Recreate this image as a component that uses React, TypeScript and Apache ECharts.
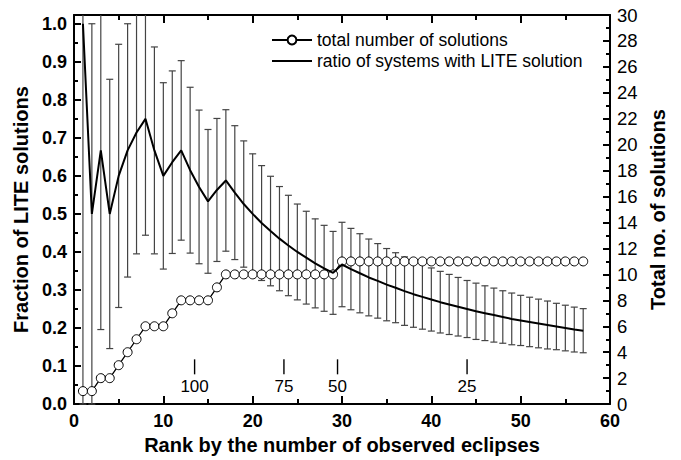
import React, { useEffect, useRef } from "react";
import * as echarts from "echarts";

// Rank by number of observed eclipses
const ranks = [
  1, 2, 3, 4, 5, 6, 7, 8, 9, 10, 11, 12, 13, 14, 15, 16, 17, 18, 19, 20,
  21, 22, 23, 24, 25, 26, 27, 28, 29, 30, 31, 32, 33, 34, 35, 36, 37, 38, 39, 40,
  41, 42, 43, 44, 45, 46, 47, 48, 49, 50, 51, 52, 53, 54, 55, 56, 57,
];

// Cumulative number of LITE solutions (right axis)
const totalSolutions = [
  1, 1, 2, 2, 3, 4, 5, 6, 6, 6, 7, 8, 8, 8, 8, 9, 10, 10, 10, 10,
  10, 10, 10, 10, 10, 10, 10, 10, 10, 11, 11, 11, 11, 11, 11, 11, 11, 11, 11, 11,
  11, 11, 11, 11, 11, 11, 11, 11, 11, 11, 11, 11, 11, 11, 11, 11, 11,
];

// Fraction of systems with a LITE solution (left axis)
const ratio = [
  1.0, 0.5, 0.667, 0.5, 0.6, 0.667, 0.714, 0.75, 0.667, 0.6,
  0.636, 0.667, 0.615, 0.571, 0.533, 0.563, 0.588, 0.556, 0.526, 0.5,
  0.476, 0.455, 0.435, 0.417, 0.4, 0.385, 0.37, 0.357, 0.345, 0.367,
  0.355, 0.344, 0.333, 0.324, 0.314, 0.306, 0.297, 0.289, 0.282, 0.275,
  0.268, 0.262, 0.256, 0.25, 0.244, 0.239, 0.234, 0.229, 0.224, 0.22,
  0.216, 0.212, 0.208, 0.204, 0.2, 0.196, 0.193,
];

// Symmetric uncertainty of the fraction
const ratioErr = [
  1.0, 0.5, 0.471, 0.354, 0.346, 0.333, 0.319, 0.306, 0.272, 0.245,
  0.24, 0.236, 0.218, 0.202, 0.189, 0.188, 0.186, 0.176, 0.166, 0.158,
  0.151, 0.144, 0.137, 0.132, 0.126, 0.122, 0.117, 0.113, 0.109, 0.111,
  0.107, 0.104, 0.101, 0.098, 0.095, 0.092, 0.09, 0.087, 0.085, 0.083,
  0.081, 0.079, 0.077, 0.075, 0.074, 0.072, 0.071, 0.069, 0.068, 0.066,
  0.065, 0.064, 0.063, 0.061, 0.06, 0.059, 0.058,
];

// Ranks at which the number of observed eclipses drops to the given count
const eclipseMarkRanks = [13.5, 23.5, 29.5, 44];
const eclipseMarkLabels = ["100", "75", "50", "25"];
const eclipseMarkLevel = 0.098;

const FONT = "'Liberation Sans', Arial, Helvetica, sans-serif";

export default function App() {
  const ref = useRef<HTMLDivElement>(null);

  useEffect(() => {
    if (!ref.current) return;
    const chart = echarts.init(ref.current, undefined, { renderer: "svg" });

    const errData = ranks.map((r, i) => [r, ratio[i] - ratioErr[i], ratio[i] + ratioErr[i]]);
    const ratioData = ranks.map((r, i) => [r, ratio[i]]);
    const totalData = ranks.map((r, i) => [r, totalSolutions[i]]);
    const markData = eclipseMarkRanks.map((r, i) => ({
      name: eclipseMarkLabels[i],
      value: [r, eclipseMarkLevel],
    }));

    const axisLine = { show: true, onZero: false, lineStyle: { color: "#000", width: 2 } };

    chart.setOption({
      animation: false,
      backgroundColor: "#fff",
      textStyle: { fontFamily: FONT },
      grid: { left: 74, right: 71, top: 15, bottom: 48, containLabel: false },
      legend: {
        orient: "vertical",
        left: 266,
        top: 26,
        itemWidth: 40,
        itemHeight: 11,
        itemGap: 3,
        data: [
          { name: "total number of solutions" },
          {
            name: "ratio of systems with LITE solution",
            itemStyle: { color: "rgba(0,0,0,0)", borderWidth: 0, opacity: 0 },
          },
        ],
        textStyle: { fontFamily: FONT, fontSize: 17.5, color: "#000" },
      },
      xAxis: [
        {
          type: "value",
          min: 0,
          max: 60,
          interval: 10,
          position: "bottom",
          axisLine,
          axisTick: { show: true, inside: true, length: 8, lineStyle: { color: "#000", width: 2 } },
          minorTick: { show: true, splitNumber: 2, length: 5, lineStyle: { color: "#000", width: 2 } },
          splitLine: { show: false },
          axisLabel: { color: "#000", fontFamily: FONT, fontSize: 18, fontWeight: "bold", margin: 8 },
          name: "Rank by the number of observed eclipses",
          nameLocation: "middle",
          nameGap: 21,
          nameTextStyle: { color: "#000", fontFamily: FONT, fontSize: 20, fontWeight: "bold" },
        },
        {
          type: "value",
          min: 0,
          max: 60,
          interval: 10,
          position: "top",
          axisLine,
          axisTick: { show: true, inside: true, length: 8, lineStyle: { color: "#000", width: 2 } },
          minorTick: { show: true, splitNumber: 2, length: 5, lineStyle: { color: "#000", width: 2 } },
          splitLine: { show: false },
          axisLabel: { show: false },
        },
      ],
      yAxis: [
        {
          type: "value",
          min: 0,
          max: 1.023,
          interval: 0.1,
          position: "left",
          axisLine,
          axisTick: { show: true, inside: true, length: 7, lineStyle: { color: "#000", width: 2 } },
          minorTick: { show: true, splitNumber: 2, length: 4, lineStyle: { color: "#000", width: 2 } },
          splitLine: { show: false },
          axisLabel: {
            color: "#000",
            fontFamily: FONT,
            fontSize: 18,
            fontWeight: "bold",
            margin: 7,
            showMaxLabel: false,
            formatter: (v: number) => v.toFixed(1),
          },
          name: "Fraction of LITE solutions",
          nameLocation: "middle",
          nameRotate: 90,
          nameGap: 35,
          nameTextStyle: { color: "#000", fontFamily: FONT, fontSize: 20, fontWeight: "bold" },
        },
        {
          type: "value",
          min: 0,
          max: 30,
          interval: 2,
          position: "right",
          axisLine,
          axisTick: { show: true, inside: true, length: 7, lineStyle: { color: "#000", width: 2 } },
          minorTick: { show: true, splitNumber: 2, length: 4, lineStyle: { color: "#000", width: 2 } },
          splitLine: { show: false },
          axisLabel: { color: "#000", fontFamily: FONT, fontSize: 18.5, margin: 7 },
          name: "Total no. of solutions",
          nameLocation: "middle",
          nameRotate: 90,
          nameGap: 34,
          nameTextStyle: { color: "#000", fontFamily: FONT, fontSize: 20, fontWeight: "bold" },
        },
      ],
      series: [
        {
          type: "custom",
          name: "error",
          xAxisIndex: 0,
          yAxisIndex: 0,
          z: 1,
          data: errData,
          renderItem: (params: any, api: any) => {
            const cs = params.coordSys;
            const x = api.value(0);
            const pLo = api.coord([x, api.value(1)]);
            const pHi = api.coord([x, api.value(2)]);
            const top = cs.y;
            const bottom = cs.y + cs.height;
            const px = pLo[0];
            const yHi = Math.max(pHi[1], top);
            const yLo = Math.min(pLo[1], bottom);
            const style = { stroke: "#444", lineWidth: 1.2 };
            const children: any[] = [
              { type: "line", shape: { x1: px, y1: yLo, x2: px, y2: yHi }, style },
            ];
            const cap = 3.5;
            if (pHi[1] >= top) {
              children.push({ type: "line", shape: { x1: px - cap, y1: pHi[1], x2: px + cap, y2: pHi[1] }, style });
            }
            if (pLo[1] <= bottom) {
              children.push({ type: "line", shape: { x1: px - cap, y1: pLo[1], x2: px + cap, y2: pLo[1] }, style });
            }
            return { type: "group", children };
          },
        },
        {
          type: "line",
          name: "total number of solutions",
          xAxisIndex: 0,
          yAxisIndex: 1,
          z: 3,
          data: totalData,
          symbol: "circle",
          symbolSize: 9,
          showSymbol: true,
          lineStyle: { color: "#000", width: 1.3 },
          itemStyle: { color: "#fff", borderColor: "#000", borderWidth: 1 },
        },
        {
          type: "line",
          name: "ratio of systems with LITE solution",
          xAxisIndex: 0,
          yAxisIndex: 0,
          z: 4,
          data: ratioData,
          symbol: "none",
          lineStyle: { color: "#000", width: 2 },
          itemStyle: { color: "rgba(0,0,0,0)", borderWidth: 0 },
        },
        {
          type: "scatter",
          name: "eclipse marks",
          xAxisIndex: 0,
          yAxisIndex: 0,
          z: 2,
          data: markData,
          symbol: "rect",
          symbolSize: [1.4, 15],
          itemStyle: { color: "#000", opacity: 1 },
          label: {
            show: true,
            position: "bottom",
            distance: 4,
            formatter: (p: any) => p.name,
            color: "#000",
            opacity: 1,
            fontFamily: FONT,
            fontSize: 17,
          },
        },
      ],
    });

    return () => chart.dispose();
  }, []);

  return <div ref={ref} style={{ width: 681, height: 460, position: "absolute", left: 0, top: 0 }} />;
}
